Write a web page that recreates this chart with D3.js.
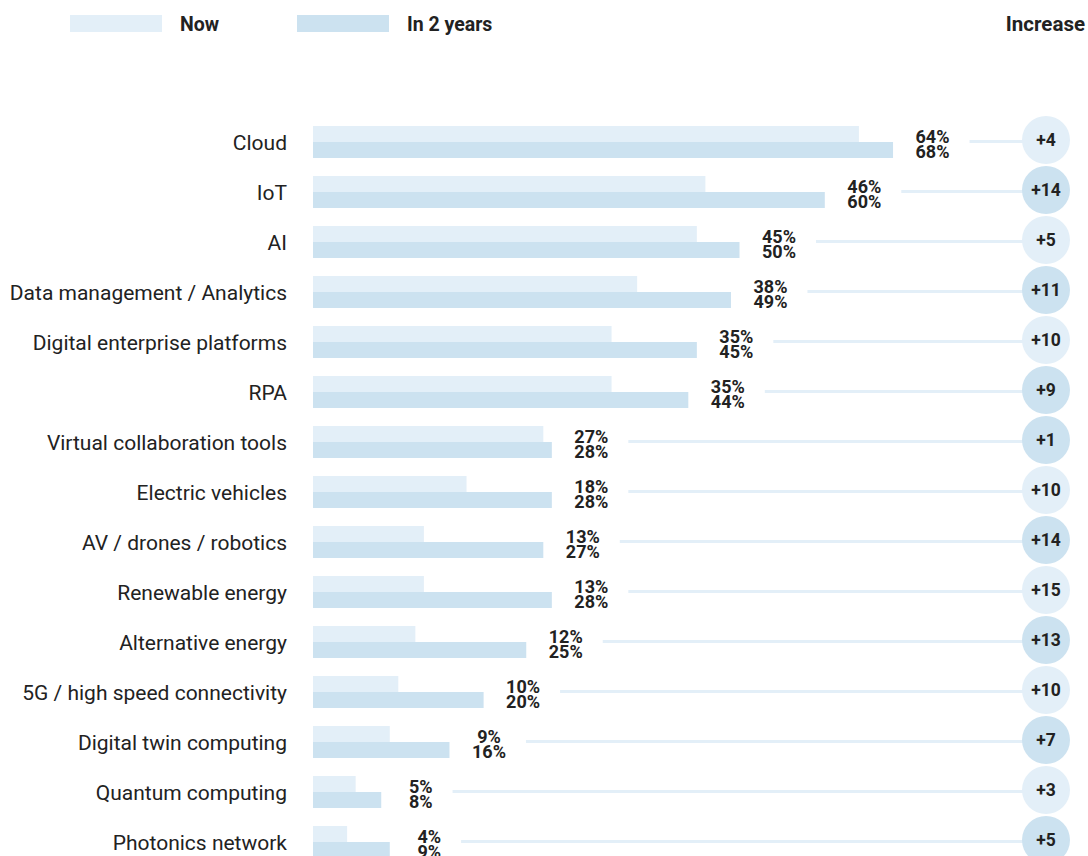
<!DOCTYPE html>
<html>
<head>
<meta charset="utf-8">
<script src="https://cdn.jsdelivr.net/npm/d3@7"></script>
<style>
  html, body { margin: 0; padding: 0; background: #fff; }
  svg { display: block; font-family: Roboto, "Noto Sans", sans-serif; }
</style>
</head>
<body>
<svg id="chart" width="1088" height="856"></svg>
<script>
// Technology adoption: share of respondents now vs. in two years
const categories = [
  "Cloud", "IoT", "AI", "Data management / Analytics", "Digital enterprise platforms",
  "RPA", "Virtual collaboration tools", "Electric vehicles", "AV / drones / robotics",
  "Renewable energy", "Alternative energy", "5G / high speed connectivity",
  "Digital twin computing", "Quantum computing", "Photonics network"
];
const nowValues   = [64, 46, 45, 38, 35, 35, 27, 18, 13, 13, 12, 10, 9, 5, 4];
const laterValues = [68, 60, 50, 49, 45, 44, 28, 28, 27, 28, 25, 20, 16, 8, 9];
const increases   = [4, 14, 5, 11, 10, 9, 1, 10, 14, 15, 13, 10, 7, 3, 5];
// badge tone per row: 0 = light, 1 = darker
const badgeTone   = [0, 1, 0, 1, 0, 1, 1, 0, 1, 0, 1, 0, 1, 0, 1];
const seriesNames = ["Now", "In 2 years"];

const colNow = "#e3eff8";
const colLater = "#cce2f0";
const ink = "#222";

const svg = d3.select("#chart");

const x = d3.scaleLinear().domain([0, 100]).range([313, 1166]);
const y = d3.scaleBand().domain(categories).range([117, 867]).padding(0);
const barH = 16;
const badgeX = 1046, badgeR = 24;

const rows = categories.map((c, i) => ({
  cat: c, now: nowValues[i], later: laterValues[i], inc: increases[i], tone: badgeTone[i]
}));

// Legend
const legend = svg.append("g");
const legendItems = [
  { name: seriesNames[0], color: colNow, x0: 70 },
  { name: seriesNames[1], color: colLater, x0: 297 }
];
legendItems.forEach(d => {
  legend.append("rect").attr("x", d.x0).attr("y", 15).attr("width", 92).attr("height", 17).attr("fill", d.color);
  legend.append("text").attr("x", d.x0 + 110).attr("y", 31)
    .attr("font-size", 19.5).attr("font-weight", 700).attr("fill", ink).text(d.name);
});
legend.append("text").attr("x", 1085).attr("y", 31).attr("text-anchor", "end")
  .attr("font-size", 20.5).attr("font-weight", 700).attr("fill", ink).text("Increase");

const row = svg.append("g").selectAll("g").data(rows).join("g")
  .attr("transform", d => `translate(0,${y(d.cat) + y.bandwidth() / 2})`);

// Category labels
row.append("text").attr("x", 287).attr("y", 0).attr("dy", "0.36em")
  .attr("text-anchor", "end").attr("font-size", 21).attr("fill", ink).text(d => d.cat);

// Bars
row.append("rect").attr("x", x(0)).attr("y", -barH)
  .attr("width", d => x(d.now) - x(0)).attr("height", barH).attr("fill", colNow);
row.append("rect").attr("x", x(0)).attr("y", 0)
  .attr("width", d => x(d.later) - x(0)).attr("height", barH).attr("fill", colLater);

// Value labels (two stacked lines)
const labelX = d => x(Math.max(d.now, d.later)) + 39.5;
const vl = row.append("text").attr("class", "vlabel").attr("text-anchor", "middle")
  .attr("font-size", 18).attr("font-weight", 700).attr("fill", ink);
vl.append("tspan").attr("x", labelX).attr("y", 0.5).text(d => d.now + "%");
vl.append("tspan").attr("x", labelX).attr("y", 16).text(d => d.later + "%");

// Connector lines
row.each(function(d) {
  const g = d3.select(this);
  const bb = g.select("text.vlabel").node().getBBox();
  g.insert("line", "circle")
    .attr("x1", bb.x + bb.width + 20).attr("x2", badgeX)
    .attr("y1", -0.5).attr("y2", -0.5)
    .attr("stroke", colNow).attr("stroke-width", 3);
});

// Increase badges
row.append("circle").attr("cx", badgeX).attr("cy", -2).attr("r", badgeR)
  .attr("fill", d => d.tone ? colLater : colNow);
row.append("text").attr("x", badgeX).attr("y", -2).attr("dy", "0.36em")
  .attr("text-anchor", "middle").attr("font-size", 17.5).attr("font-weight", 700)
  .attr("fill", ink).text(d => "+" + d.inc);
</script>
</body>
</html>
